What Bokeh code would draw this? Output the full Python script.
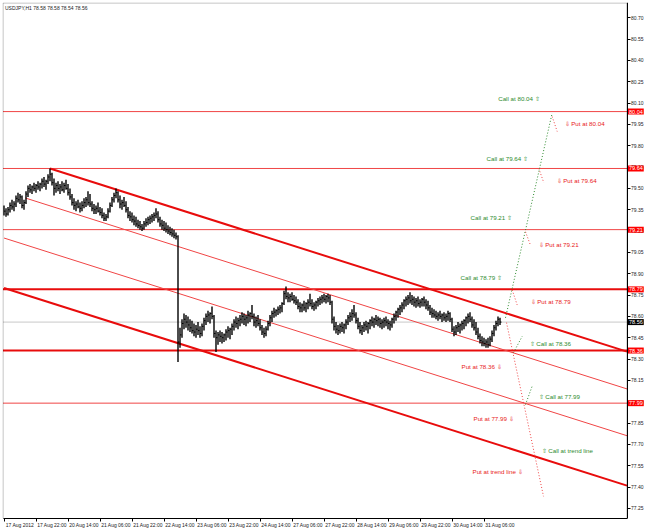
from bokeh.plotting import figure
from bokeh.models import (Range1d, FixedTicker, Label, ColumnDataSource, NumeralTickFormatter,
                          BoxAnnotation)
from bokeh.embed import file_html
from bokeh.resources import INLINE
from bokeh.core.properties import value

FONT = "'Liberation Sans', Arial, sans-serif"

# ---------------- data ----------------
chart_title = "USDJPY,H1  78.58 78.58 78.54 78.56"

time_label_bars = [0, 16, 32, 48, 64, 80, 96, 112, 128, 144, 160, 176, 192, 208, 224, 240]
time_labels = ["17 Aug 2012", "17 Aug 22:00", "20 Aug 14:00", "21 Aug 06:00", "21 Aug 22:00",
               "22 Aug 14:00", "23 Aug 06:00", "23 Aug 22:00", "24 Aug 14:00", "27 Aug 06:00",
               "27 Aug 22:00", "28 Aug 14:00", "29 Aug 06:00", "29 Aug 22:00", "30 Aug 14:00",
               "31 Aug 06:00"]

price_ticks = [77.25, 77.40, 77.55, 77.70, 77.85, 78.00, 78.15, 78.30, 78.45, 78.60, 78.75,
               78.90, 79.05, 79.20, 79.35, 79.50, 79.65, 79.80, 79.95, 80.10, 80.25, 80.40,
               80.55, 80.70]

highs = [79.38, 79.36, 79.37, 79.40, 79.42, 79.41, 79.45, 79.47, 79.46, 79.45,
         79.42, 79.48, 79.52, 79.53, 79.52, 79.54, 79.53, 79.55, 79.54, 79.57,
         79.58, 79.56, 79.60, 79.64, 79.61, 79.57, 79.54, 79.55, 79.53, 79.55,
         79.54, 79.56, 79.53, 79.50, 79.46, 79.43, 79.41, 79.42, 79.40, 79.41,
         79.43, 79.44, 79.48, 79.46, 79.41, 79.39, 79.38, 79.40, 79.37, 79.36,
         79.33, 79.32, 79.36, 79.40, 79.44, 79.47, 79.50, 79.48, 79.45, 79.42,
         79.44, 79.41, 79.37, 79.34, 79.33, 79.31, 79.30, 79.28, 79.27, 79.25,
         79.27, 79.29, 79.30, 79.31, 79.32, 79.33, 79.36, 79.34, 79.30, 79.28,
         79.27, 79.26, 79.24, 79.23, 79.22, 79.21, 79.19, 79.17, 78.52, 78.58,
         78.62, 78.61, 78.60, 78.58, 78.57, 78.55, 78.54, 78.56, 78.53, 78.55,
         78.59, 78.62, 78.64, 78.63, 78.67, 78.61, 78.50, 78.49, 78.50, 78.49,
         78.48, 78.51, 78.53, 78.52, 78.55, 78.58, 78.60, 78.59, 78.61, 78.63,
         78.62, 78.61, 78.64, 78.63, 78.68, 78.62, 78.60, 78.61, 78.58, 78.54,
         78.52, 78.53, 78.57, 78.61, 78.64, 78.66, 78.65, 78.67, 78.68, 78.70,
         78.78, 78.81, 78.77, 78.76, 78.77, 78.75, 78.74, 78.72, 78.70, 78.69,
         78.71, 78.70, 78.72, 78.76, 78.72, 78.70, 78.71, 78.73, 78.74, 78.75,
         78.76, 78.75, 78.76, 78.75, 78.71, 78.60, 78.56, 78.54, 78.55, 78.56,
         78.55, 78.58, 78.61, 78.63, 78.65, 78.68, 78.63, 78.59, 78.56, 78.54,
         78.56, 78.57, 78.56, 78.58, 78.60, 78.59, 78.61, 78.60, 78.59, 78.58,
         78.59, 78.60, 78.58, 78.57, 78.59, 78.62, 78.64, 78.66, 78.68, 78.70,
         78.72, 78.74, 78.75, 78.77, 78.75, 78.74, 78.73, 78.74, 78.72, 78.73,
         78.74, 78.72, 78.71, 78.68, 78.66, 78.65, 78.64, 78.63, 78.64, 78.62,
         78.63, 78.62, 78.64, 78.63, 78.59, 78.53, 78.54, 78.56, 78.55, 78.57,
         78.58, 78.60, 78.62, 78.63, 78.60, 78.58, 78.56, 78.52, 78.48, 78.46,
         78.45, 78.44, 78.45, 78.46, 78.50, 78.54, 78.57, 78.60, 78.59]

lows = [79.31, 79.30, 79.31, 79.33, 79.35, 79.34, 79.37, 79.40, 79.39, 79.36,
        79.35, 79.39, 79.44, 79.47, 79.46, 79.48, 79.47, 79.49, 79.48, 79.50,
        79.51, 79.49, 79.53, 79.55, 79.52, 79.45, 79.47, 79.48, 79.46, 79.48,
        79.47, 79.49, 79.45, 79.42, 79.38, 79.35, 79.34, 79.36, 79.33, 79.34,
        79.36, 79.37, 79.38, 79.37, 79.34, 79.32, 79.32, 79.33, 79.31, 79.29,
        79.27, 79.27, 79.29, 79.33, 79.37, 79.40, 79.43, 79.40, 79.36, 79.35,
        79.37, 79.33, 79.29, 79.27, 79.26, 79.24, 79.23, 79.22, 79.21, 79.20,
        79.21, 79.23, 79.24, 79.25, 79.26, 79.27, 79.29, 79.26, 79.23, 79.21,
        79.20, 79.19, 79.18, 79.17, 79.16, 79.15, 79.14, 78.28, 78.38, 78.45,
        78.51, 78.52, 78.50, 78.49, 78.48, 78.46, 78.45, 78.47, 78.45, 78.46,
        78.50, 78.54, 78.56, 78.55, 78.58, 78.45, 78.35, 78.40, 78.42, 78.41,
        78.42, 78.43, 78.45, 78.44, 78.47, 78.50, 78.52, 78.51, 78.53, 78.55,
        78.54, 78.53, 78.55, 78.56, 78.58, 78.53, 78.52, 78.53, 78.50, 78.47,
        78.45, 78.46, 78.50, 78.53, 78.56, 78.59, 78.60, 78.61, 78.62, 78.63,
        78.68, 78.72, 78.70, 78.70, 78.71, 78.69, 78.68, 78.65, 78.63, 78.63,
        78.64, 78.63, 78.65, 78.67, 78.65, 78.64, 78.65, 78.67, 78.68, 78.69,
        78.70, 78.69, 78.70, 78.68, 78.55, 78.50, 78.48, 78.47, 78.48, 78.49,
        78.48, 78.51, 78.54, 78.56, 78.57, 78.59, 78.55, 78.51, 78.48, 78.47,
        78.49, 78.50, 78.48, 78.51, 78.53, 78.52, 78.54, 78.53, 78.52, 78.51,
        78.52, 78.53, 78.51, 78.50, 78.52, 78.55, 78.57, 78.59, 78.61, 78.63,
        78.65, 78.67, 78.68, 78.69, 78.68, 78.67, 78.66, 78.67, 78.66, 78.67,
        78.67, 78.65, 78.64, 78.61, 78.59, 78.59, 78.58, 78.57, 78.58, 78.56,
        78.57, 78.56, 78.57, 78.56, 78.49, 78.46, 78.47, 78.49, 78.48, 78.50,
        78.51, 78.53, 78.55, 78.56, 78.52, 78.50, 78.47, 78.44, 78.41, 78.39,
        78.39, 78.38, 78.38, 78.39, 78.42, 78.46, 78.50, 78.53, 78.54]

closes = [79.34, 79.32, 79.35, 79.38, 79.37, 79.39, 79.43, 79.42, 79.44, 79.38,
          79.40, 79.46, 79.50, 79.49, 79.51, 79.50, 79.52, 79.51, 79.53, 79.55,
          79.53, 79.55, 79.58, 79.60, 79.54, 79.50, 79.52, 79.50, 79.51, 79.49,
          79.52, 79.50, 79.47, 79.44, 79.40, 79.38, 79.39, 79.37, 79.36, 79.38,
          79.40, 79.42, 79.40, 79.39, 79.36, 79.35, 79.36, 79.34, 79.33, 79.31,
          79.29, 79.30, 79.34, 79.38, 79.42, 79.45, 79.47, 79.42, 79.39, 79.40,
          79.38, 79.35, 79.31, 79.30, 79.28, 79.27, 79.25, 79.24, 79.23, 79.22,
          79.25, 79.26, 79.28, 79.29, 79.30, 79.31, 79.32, 79.28, 79.25, 79.24,
          79.22, 79.21, 79.20, 79.19, 79.18, 79.17, 79.16, 78.42, 78.47, 78.55,
          78.58, 78.56, 78.54, 78.52, 78.50, 78.49, 78.51, 78.50, 78.48, 78.53,
          78.57, 78.60, 78.61, 78.62, 78.60, 78.48, 78.45, 78.47, 78.46, 78.45,
          78.47, 78.49, 78.50, 78.51, 78.53, 78.56, 78.55, 78.57, 78.58, 78.60,
          78.58, 78.59, 78.61, 78.62, 78.60, 78.56, 78.57, 78.55, 78.52, 78.49,
          78.48, 78.51, 78.55, 78.59, 78.62, 78.63, 78.64, 78.65, 78.66, 78.69,
          78.76, 78.74, 78.73, 78.74, 78.72, 78.71, 78.70, 78.67, 78.66, 78.68,
          78.66, 78.69, 78.70, 78.69, 78.67, 78.68, 78.70, 78.71, 78.72, 78.73,
          78.72, 78.74, 78.73, 78.70, 78.58, 78.53, 78.51, 78.50, 78.53, 78.52,
          78.54, 78.56, 78.59, 78.60, 78.62, 78.61, 78.57, 78.53, 78.50, 78.52,
          78.54, 78.53, 78.55, 78.57, 78.56, 78.58, 78.57, 78.58, 78.55, 78.56,
          78.57, 78.56, 78.55, 78.54, 78.58, 78.60, 78.63, 78.65, 78.66, 78.68,
          78.71, 78.72, 78.73, 78.71, 78.72, 78.70, 78.71, 78.69, 78.70, 78.72,
          78.70, 78.68, 78.66, 78.63, 78.62, 78.61, 78.60, 78.61, 78.60, 78.61,
          78.59, 78.60, 78.62, 78.58, 78.51, 78.49, 78.52, 78.53, 78.54, 78.55,
          78.57, 78.59, 78.60, 78.58, 78.54, 78.52, 78.49, 78.46, 78.43, 78.42,
          78.41, 78.42, 78.40, 78.44, 78.48, 78.52, 78.55, 78.58, 78.56]

bid_price = 78.56

# horizontal levels (price) and whether each is a major (thick) level
levels = [80.04, 79.64, 79.21, 78.79, 78.36, 77.99]
level_major = [False, False, False, True, True, False]

# chart window (bars / prices covered by the bordered chart area)
WIN_X0, WIN_X1 = -0.5, 311.5
WIN_Y0, WIN_Y1 = 77.179, 80.8035

# channel lines: start (bar, price) -> end (bar, price)
channel_x0 = [23, 10.75, 0.0, 0.0]
channel_y0 = [79.64, 79.432, 79.151, 78.80]
channel_x1 = [311.5, 311.5, 311.5, 311.5]
channel_y1 = [78.352, 78.090, 77.761, 77.410]
channel_major = [True, False, False, True]

# projection paths (dotted)
call_path_x0 = [250.75, 254.75, 260.75]
call_path_y0 = [78.59, 78.345, 77.98]
call_path_x1 = [274.1, 259.1, 264.1]
call_path_y1 = [80.03, 78.46, 78.11]

put_path_x0 = [251.25, 274.1, 267.4, 260.75, 254.1]
put_path_y0 = [78.556, 80.005, 79.64, 79.195, 78.786]
put_path_x1 = [269.75, 276.6, 269.9, 263.25, 256.6]
put_path_y1 = [77.335, 79.90, 79.54, 79.10, 78.68]

# signal labels
sig_text = ["Call at 80.04  \u21e7", "\u21e9  Put at 80.04",
            "Call at 79.64  \u21e7", "\u21e9  Put at 79.64",
            "Call at 79.21  \u21e7", "\u21e9  Put at 79.21",
            "Call at 78.79  \u21e7", "\u21e9  Put at 78.79",
            "\u21e7  Call at 78.36", "Put at 78.36  \u21e9",
            "\u21e7  Call at 77.99", "Put at 77.99  \u21e9",
            "\u21e7  Call at trend line", "Put at trend line  \u21e9"]
sig_kind = ["call", "put", "call", "put", "call", "put", "call", "put",
            "call", "put", "call", "put", "call", "put"]
sig_bar = [247.1, 280.25, 241.25, 276.25, 233.25, 267.25, 228.25, 263.25,
           262.75, 228.75, 267.25, 234.75, 268.75, 234.25]
sig_price = [80.134, 79.958, 79.713, 79.558, 79.292, 79.102, 78.870, 78.702,
             78.408, 78.247, 78.04, 77.881, 77.657, 77.51]

# ---------------- styling ----------------
GREEN = "#2e8b2e"
RED_TXT = "#e82020"
RED_THICK = "#e80c0c"
RED_THIN = "#f04545"
LABEL_SHIFT = 8  # time labels are drawn to the right of their tick (in bars)

p = figure(width=645, height=530,
           x_range=Range1d(-0.75, 320.75), y_range=Range1d(77.179, 80.807),
           output_backend="svg", toolbar_location=None, y_axis_location="right",
           min_border_left=2, min_border_top=2, min_border_right=0, min_border_bottom=0)
p.outline_line_color = None
p.xgrid.visible = False
p.ygrid.visible = False
p.background_fill_color = "white"
p.border_fill_color = "white"

# chart border
p.add_layout(BoxAnnotation(left=WIN_X0, right=WIN_X1, bottom=WIN_Y0, top=WIN_Y1,
                           fill_alpha=0, line_color="black", line_width=1))

# axes
yax = p.yaxis[0]
yax.fixed_location = WIN_X1
yax.ticker = FixedTicker(ticks=price_ticks)
yax.formatter = NumeralTickFormatter(format="0.00")
yax.major_label_text_font = FONT
yax.major_label_text_font_size = "5px"
yax.major_label_text_color = "#222222"
yax.major_tick_out = 3
yax.major_tick_in = 0
yax.minor_tick_out = 0
yax.minor_tick_in = 0
yax.major_label_standoff = 1
yax.axis_line_color = "black"

label_pos = [b + LABEL_SHIFT for b in time_label_bars]
xax = p.xaxis[0]
xax.bounds = (WIN_X0, WIN_X1)
xax.ticker = FixedTicker(ticks=label_pos, minor_ticks=time_label_bars)
xax.major_label_overrides = {pos: t for pos, t in zip(label_pos, time_labels)}
xax.major_label_text_font = FONT
xax.major_label_text_font_size = "5px"
xax.major_label_text_color = "#222222"
xax.major_tick_out = 0
xax.major_tick_in = 0
xax.minor_tick_out = 3
xax.minor_tick_in = 0
xax.minor_tick_line_color = "black"
xax.major_label_standoff = 0
xax.axis_line_color = "black"

# bid line
p.segment(x0=[WIN_X0], y0=[bid_price], x1=[WIN_X1], y1=[bid_price],
          line_color="#c8c8c8", line_width=1)

# horizontal levels
p.segment(x0=[WIN_X0] * len(levels), y0=levels, x1=[WIN_X1] * len(levels), y1=levels,
          line_color=[RED_THICK if m else RED_THIN for m in level_major],
          line_width=[2 if m else 1 for m in level_major])

# channel
p.segment(x0=channel_x0, y0=channel_y0, x1=channel_x1, y1=channel_y1,
          line_color=[RED_THICK if m else RED_THIN for m in channel_major],
          line_width=[2 if m else 1 for m in channel_major])

# price bars (high-low bar with close tick)
n = min(len(highs), len(lows), len(closes))
bar_idx = list(range(n))
bars = ColumnDataSource(dict(x=bar_idx, hi=highs[:n], lo=lows[:n], cl=closes[:n],
                             xr=[b + 0.75 for b in bar_idx]))
p.segment(x0="x", y0="lo", x1="x", y1="hi", source=bars, line_color="black", line_width=1.4)
p.segment(x0="x", y0="cl", x1="xr", y1="cl", source=bars, line_color="black", line_width=1)

# projection paths
p.segment(x0=call_path_x0, y0=call_path_y0, x1=call_path_x1, y1=call_path_y1,
          line_color=GREEN, line_width=1, line_dash="1 2")
p.segment(x0=put_path_x0, y0=put_path_y0, x1=put_path_x1, y1=put_path_y1,
          line_color=RED_THIN, line_width=1, line_dash="1 2")

# signal labels
sig_src = ColumnDataSource(dict(x=sig_bar, y=sig_price, t=sig_text,
                                c=[GREEN if k == "call" else RED_TXT for k in sig_kind]))
p.text(x="x", y="y", text="t", source=sig_src, text_color="c",
       text_font=value(FONT), text_font_size="6.2px",
       text_align="left", text_baseline="middle")

# title
p.add_layout(Label(x=WIN_X0, y=80.765, x_offset=2, text=chart_title, text_font=FONT,
                   text_font_size="5px", text_color="#222222", text_baseline="middle"))

# right-axis price tags
for lv in levels:
    p.add_layout(Label(x=WIN_X1, y=lv, x_offset=1, text=f"{lv:.2f}", text_font=FONT,
                       text_font_size="5.5px", text_color="white", text_baseline="middle",
                       background_fill_color="#ff0000", padding=1))
p.add_layout(Label(x=WIN_X1, y=bid_price, x_offset=1, text=f"{bid_price:.2f}", text_font=FONT,
                   text_font_size="5.5px", text_color="white", text_baseline="middle",
                   background_fill_color="#000000", padding=1))

open("out.html", "w").write(file_html(p, INLINE))
